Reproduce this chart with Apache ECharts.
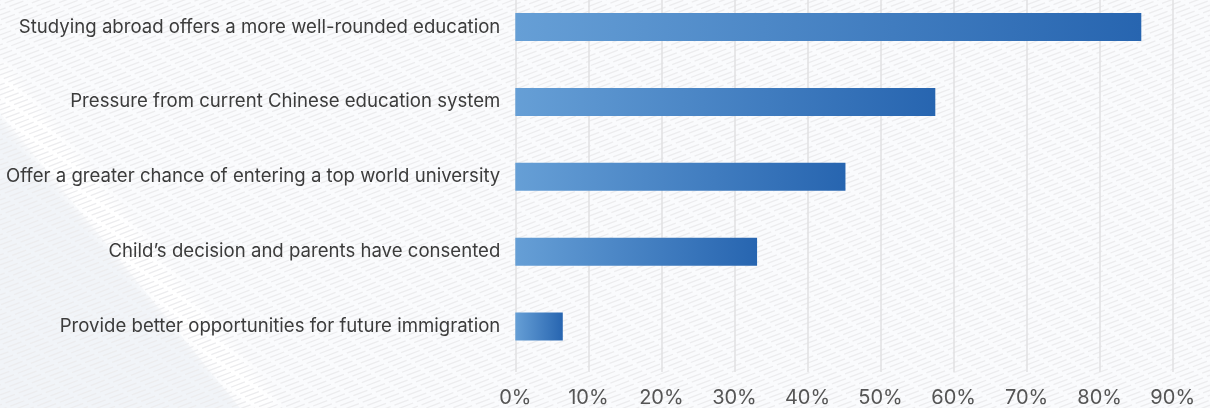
<!DOCTYPE html>
<html>
<head>
<meta charset="utf-8">
<script src="https://cdn.jsdelivr.net/npm/echarts@6/dist/echarts.min.js"></script>
<style>
  html, body { margin: 0; padding: 0; width: 1210px; height: 408px; overflow: hidden; background: #f9fafc; }
  #bg { position: absolute; left: 0; top: 0; width: 1210px; height: 408px; }
  #chart { position: absolute; left: 0; top: 0; width: 1210px; height: 408px; }
</style>
</head>
<body>
<canvas id="bg" width="1210" height="408"></canvas>
<div id="chart"></div>
<script>
// Reasons for studying abroad (share of respondents, %)
const categories = [
  'Studying abroad offers a more well-rounded education',
  'Pressure from current Chinese education system',
  'Offer a greater chance of entering a top world university',
  'Child\u2019s decision and parents have consented',
  'Provide better opportunities for future immigration'
];
const shares = [85.7, 57.5, 45.2, 33.1, 6.5];
const axisMax = 90;
const axisStep = 10;

// Decorative backdrop: soft diagonal panels with a faint dashed hatch texture
(function drawBackdrop() {
  const cv = document.getElementById('bg');
  const ctx = cv.getContext('2d');
  const W = cv.width, H = cv.height;
  ctx.fillStyle = '#fafbfd';
  ctx.fillRect(0, 0, W, H);

  ctx.fillStyle = '#f1f4f8';
  ctx.beginPath();
  ctx.moveTo(0, 113); ctx.lineTo(240, 408); ctx.lineTo(0, 408); ctx.closePath();
  ctx.fill();

  ctx.save();
  ctx.filter = 'blur(6px)';
  ctx.fillStyle = '#ffffff';
  ctx.beginPath();
  ctx.moveTo(0, 116); ctx.lineTo(244, 408); ctx.lineTo(282, 408); ctx.lineTo(0, 60); ctx.closePath();
  ctx.fill();
  ctx.restore();

  ctx.strokeStyle = '#ececee';
  ctx.lineWidth = 1.3;
  ctx.setLineDash([15, 4]);
  const slope = 0.38, gap = 5;
  let k = 0;
  for (let c = 0; c < H + slope * W + 20; c += gap, k++) {
    ctx.lineDashOffset = -((k * 5) % 19);
    ctx.beginPath();
    ctx.moveTo(0, c);
    ctx.lineTo(W, c - slope * W);
    ctx.stroke();
  }
})();

const chart = echarts.init(document.getElementById('chart'), null, { renderer: 'canvas' });

const barFill = new echarts.graphic.LinearGradient(0, 0, 1, 0, [
  { offset: 0, color: '#669fd6' },
  { offset: 1, color: '#2765b0' }
]);

chart.setOption({
  backgroundColor: 'transparent',
  animation: false,
  grid: [
    // bar rows: category centres sit on the grid edges (boundaryGap off)
    { left: 515.3, right: 37.3, top: 27, bottom: 81.5, containLabel: false },
    // value axis with full-height split lines
    { left: 515.3, right: 37.3, top: 0, bottom: 36, containLabel: false }
  ],
  xAxis: [
    { gridIndex: 0, type: 'value', min: 0, max: axisMax, interval: axisStep, show: false },
    {
      gridIndex: 1, type: 'value', min: 0, max: axisMax, interval: axisStep,
      axisLine: { show: false }, axisTick: { show: false },
      axisLabel: {
        formatter: '{value}%', color: '#555555', fontFamily: 'Inter', fontSize: 20, margin: 16
      },
      splitLine: { show: true, lineStyle: { color: '#e0e0e2', width: 1.5 } }
    }
  ],
  yAxis: [
    {
      gridIndex: 0, type: 'category', data: categories, inverse: true, boundaryGap: false,
      axisLine: { show: false }, axisTick: { show: false }, splitLine: { show: false },
      axisLabel: { color: '#3c3c3c', fontFamily: 'Inter', fontSize: 18.6, margin: 15 }
    },
    { gridIndex: 1, type: 'value', show: false }
  ],
  series: [{
    type: 'bar',
    xAxisIndex: 0, yAxisIndex: 0,
    data: shares,
    barWidth: 28,
    clip: false,
    itemStyle: { color: barFill }
  }]
});
</script>
</body>
</html>
